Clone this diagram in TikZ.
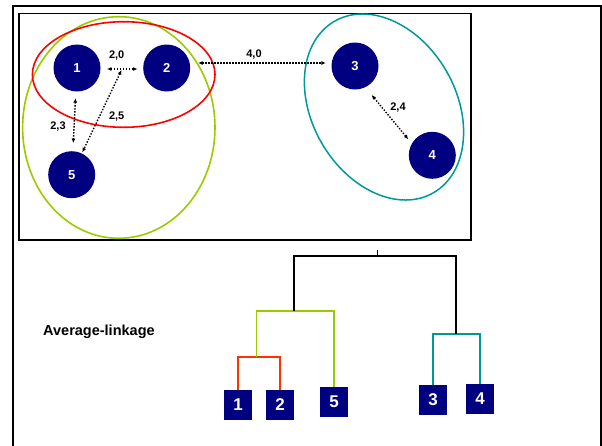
\documentclass[tikz,border=0pt]{standalone}
\usepackage{fontspec}
\setmainfont{Liberation Sans}
\usetikzlibrary{arrows.meta}
\definecolor{navy}{RGB}{0,0,128}
\definecolor{limeg}{RGB}{153,204,0}
\definecolor{tealc}{RGB}{0,153,153}
\definecolor{orangered}{RGB}{255,51,0}
\begin{document}
\begin{tikzpicture}[x=1pt,y=-1pt,
  pt/.style={circle,fill=navy,minimum size=47pt,inner sep=0pt,
             text=white,font=\fontsize{13}{15}\selectfont\bfseries},
  leaf/.style={rectangle,fill=navy,minimum width=28pt,minimum height=30pt,inner sep=0pt,
             text=white,font=\fontsize{17}{19}\selectfont\bfseries},
  dist/.style={dash pattern=on 1.4pt off 1.6pt,line width=1.4pt,
             {Latex[length=4.5pt,width=4pt]}-{Latex[length=4.5pt,width=4pt]}},
  dlab/.style={font=\fontsize{11}{13}\selectfont\bfseries,inner sep=0pt},
  link/.style={line width=1.8pt}
]
\useasboundingbox (0,0) rectangle (602,445);

% frames
\draw[line width=2pt] (13,452) -- (13,5.5) -- (601,5.5) -- (601,452);
\draw[line width=1.5pt] (19,13.3) rectangle (471,240);

% cluster outlines
\draw[limeg,line width=1.6pt] (118.8,127.5) ellipse [x radius=96.2pt, y radius=110.8pt];
\draw[red,line width=1.6pt] (123.7,74.5) ellipse [x radius=91.3pt, y radius=52.8pt];
\draw[tealc,line width=1.5pt,rotate around={-60:(384,107)}] (384,107) ellipse [x radius=99pt, y radius=72pt];

% points
\node[pt] (n1) at (77,68) {1};
\node[pt] (n2) at (166.7,68) {2};
\node[pt] (n5) at (71.7,174.7) {5};
\node[pt] (n3) at (355,66) {3};
\node[pt] (n4) at (432.3,155.3) {4};

% pairwise distances
\draw[dist,shorten <=6.2pt,shorten >=5.5pt] ([yshift=-1pt]n1.east) -- ([yshift=-1pt]n2.west);
\coordinate (m12) at (121.5,70);
\draw[dist,shorten <=6.5pt,shorten >=8pt] (n1) -- (n5);
\draw[dist,shorten >=1pt] (m12) -- (n5);
\draw[dist,shorten <=7.8pt,shorten >=5.5pt] ([yshift=5pt]n2.east) -- ([yshift=3pt]n3.west);
\draw[dist] ([shift={(16.7,29)}]n3.center) -- ([shift={(-24,-16)}]n4.center);

\node[dlab] at (116.7,55.5) {2,0};
\node[dlab] at (58,127) {2,3};
\node[dlab] at (116.7,117) {2,5};
\node[dlab] at (254,55) {4,0};
\node[dlab] at (398,107.5) {2,4};

% dendrogram
\node[font=\fontsize{14.5}{16}\selectfont\bfseries,anchor=west,inner sep=0pt] (title) at (43,332) {Average-linkage};

\node[leaf] (d1) at (238,405) {1};
\node[leaf] (d2) at (280,405) {2};
\node[leaf] (d5) at (334,401.7) {5};
\node[leaf] (d3) at (433,400) {3};
\node[leaf] (d4) at (480,399) {4};

\coordinate (r12) at (256.5,357.3);
\coordinate (g125) at (293.7,311.3);
\coordinate (t34) at (455.7,334.3);
\coordinate (root) at (377.3,255.7);

\draw[link,orangered] (d1.north) |- (r12) -| (d2.north);
\draw[link,limeg] (r12) |- (g125) -| (d5.north);
\draw[link,tealc] (d3.north) |- (t34) -| (d4.north);
\draw[link,black] (g125) |- (root) -| (t34);
\draw[black,line width=1.3pt] (root) -- ++(0,-6);
\end{tikzpicture}
\end{document}
